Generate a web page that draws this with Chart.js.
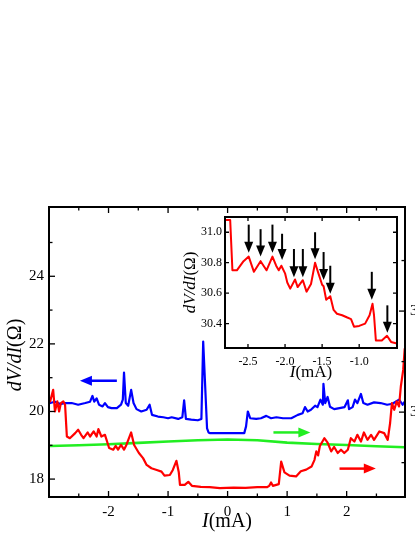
<!DOCTYPE html>
<html>
<head>
<meta charset="utf-8">
<script src="https://cdn.jsdelivr.net/npm/chart.js@4.4.1/dist/chart.umd.min.js"></script>
<style>
  body { margin: 0; background: #fff; }
  #wrap { position: relative; width: 415px; height: 537px; overflow: hidden; }
  #main { position: absolute; left: 0; top: 0; }
  #inset { position: absolute; left: 165px; top: 205px; }
</style>
</head>
<body>
<div id="wrap">
  <canvas id="main" width="415" height="537"></canvas>
  <canvas id="inset" width="240" height="180"></canvas>
</div>
<script>
// main plot, dV/dI vs I, three sweeps
const blueX = [-2.98, -2.90, -2.81, -2.73, -2.62, -2.51, -2.39, -2.31, -2.27, -2.24, -2.20, -2.16, -2.10, -2.06, -2.01, -1.95, -1.86, -1.79, -1.76, -1.74, -1.71, -1.67, -1.62, -1.58, -1.53, -1.45, -1.36, -1.31, -1.27, -1.17, -1.08, -1.00, -0.94, -0.83, -0.76, -0.73, -0.70, -0.61, -0.50, -0.44, -0.41, -0.345, -0.32, -0.30, -0.02, 0.28, 0.31, 0.34, 0.38, 0.48, 0.56, 0.65, 0.73, 0.82, 0.93, 1.07, 1.18, 1.26, 1.30, 1.345, 1.40, 1.47, 1.51, 1.56, 1.60, 1.61, 1.64, 1.68, 1.72, 1.79, 1.88, 1.965, 2.02, 2.04, 2.10, 2.14, 2.18, 2.24, 2.28, 2.35, 2.46, 2.57, 2.68, 2.77, 2.83, 2.88, 2.94, 2.97];
const blueY = [20.25, 20.29, 20.22, 20.25, 20.25, 20.20, 20.25, 20.29, 20.46, 20.29, 20.39, 20.20, 20.15, 20.25, 20.13, 20.10, 20.10, 20.20, 20.35, 21.15, 20.25, 20.17, 20.64, 20.25, 20.07, 20.00, 20.05, 20.20, 19.90, 19.85, 19.83, 19.80, 19.83, 19.78, 19.83, 20.33, 19.78, 19.76, 19.74, 19.78, 22.07, 19.50, 19.38, 19.36, 19.36, 19.36, 19.56, 20.00, 19.80, 19.78, 19.80, 19.87, 19.80, 19.83, 19.80, 19.80, 19.90, 19.95, 20.13, 20.00, 20.05, 20.17, 20.13, 20.35, 20.20, 20.82, 20.25, 20.43, 20.14, 20.07, 20.10, 20.13, 20.33, 20.07, 20.13, 20.35, 20.25, 20.52, 20.25, 20.20, 20.27, 20.25, 20.20, 20.23, 20.30, 20.35, 20.20, 20.28];

const redX = [-2.98, -2.93, -2.90, -2.86, -2.83, -2.80, -2.76, -2.73, -2.70, -2.65, -2.56, -2.51, -2.46, -2.42, -2.35, -2.31, -2.25, -2.20, -2.17, -2.12, -2.06, -1.99, -1.92, -1.88, -1.84, -1.79, -1.74, -1.70, -1.62, -1.57, -1.49, -1.42, -1.36, -1.28, -1.19, -1.11, -1.06, -0.97, -0.92, -0.86, -0.82, -0.80, -0.72, -0.66, -0.60, -0.45, -0.30, -0.13, 0.10, 0.30, 0.50, 0.66, 0.70, 0.73, 0.76, 0.86, 0.90, 0.955, 1.04, 1.15, 1.23, 1.32, 1.41, 1.46, 1.49, 1.52, 1.55, 1.625, 1.68, 1.74, 1.79, 1.85, 1.905, 1.96, 2.02, 2.07, 2.13, 2.18, 2.24, 2.29, 2.35, 2.41, 2.46, 2.55, 2.63, 2.69, 2.73, 2.76, 2.80, 2.84, 2.88, 2.91, 2.95, 2.975];
const redY = [20.30, 20.64, 20.00, 20.30, 20.00, 20.25, 20.30, 20.20, 19.26, 19.21, 19.36, 19.46, 19.31, 19.21, 19.38, 19.26, 19.41, 19.26, 19.48, 19.26, 19.31, 18.92, 18.87, 18.98, 18.87, 19.01, 18.87, 19.01, 19.38, 19.01, 18.77, 18.62, 18.42, 18.32, 18.27, 18.22, 18.10, 18.12, 18.27, 18.54, 18.20, 17.83, 17.83, 17.92, 17.80, 17.77, 17.76, 17.73, 17.75, 17.74, 17.76, 17.76, 17.80, 17.90, 17.80, 17.85, 18.52, 18.20, 18.10, 18.08, 18.23, 18.28, 18.37, 18.57, 18.82, 18.70, 18.98, 19.21, 19.08, 18.82, 18.95, 18.77, 18.87, 18.77, 18.87, 19.21, 19.11, 19.31, 19.11, 19.38, 19.16, 19.31, 19.16, 19.41, 19.36, 19.16, 19.66, 20.25, 20.05, 20.30, 20.15, 20.74, 21.23, 21.85];

const greenX = [-2.98, -2.5, -2.0, -1.5, -1.0, -0.5, 0.0, 0.5, 1.0, 1.5, 2.0, 2.5, 2.975];
const greenY = [18.98, 19.00, 19.03, 19.07, 19.11, 19.15, 19.17, 19.15, 19.08, 19.04, 19.01, 18.97, 18.94];

// sweep direction arrows (tail -> head)
const sweepTailX = [-1.86, 0.77, 1.88];
const sweepHeadX = [-2.48, 1.39, 2.49];
const sweepY = [20.91, 19.38, 18.31];

// ticks
const mainXTicks = [-2, -1, 0, 1, 2];
const mainXMinor = [-2.5, -1.5, -0.5, 0.5, 1.5, 2.5];
const mainYTicks = [18, 20, 22, 24];
const mainYMinor = [19, 21, 23, 25];
const rightYTicks = [30, 31];
const rightYMinor = [29.5, 30.5, 31.5];

// inset, zoom of the red sweep at negative current
const insetX = [-2.81, -2.74, -2.71, -2.65, -2.56, -2.49, -2.42, -2.33, -2.25, -2.17, -2.12, -2.085, -2.05, -2.00, -1.97, -1.93, -1.865, -1.83, -1.76, -1.71, -1.65, -1.595, -1.55, -1.50, -1.48, -1.445, -1.39, -1.345, -1.30, -1.23, -1.16, -1.11, -1.07, -1.00, -0.92, -0.86, -0.82, -0.80, -0.775, -0.695, -0.625, -0.57, -0.49];
const insetY = [31.08, 31.08, 30.75, 30.75, 30.81, 30.84, 30.74, 30.81, 30.75, 30.84, 30.78, 30.75, 30.78, 30.73, 30.67, 30.63, 30.69, 30.64, 30.685, 30.61, 30.66, 30.80, 30.73, 30.655, 30.645, 30.557, 30.58, 30.49, 30.465, 30.455, 30.44, 30.43, 30.38, 30.385, 30.40, 30.455, 30.53, 30.455, 30.29, 30.29, 30.32, 30.28, 30.27];
const peakX = [-2.49, -2.33, -2.17, -2.04, -1.88, -1.76, -1.595, -1.48, -1.39, -0.83, -0.62];
const peakTipY = [30.865, 30.84, 30.865, 30.818, 30.705, 30.705, 30.822, 30.687, 30.596, 30.557, 30.34];
const peakTailY = [31.05, 31.02, 31.05, 30.99, 30.89, 30.89, 31.00, 30.87, 30.78, 30.74, 30.52];
const insetXTicks = [-2.5, -2.0, -1.5, -1.0];
const insetYTicks = [30.4, 30.6, 30.8, 31.0];

const serif = '"Liberation Serif", "Times New Roman", serif';
const pts = (xs, ys) => xs.map((x, i) => ({ x: x, y: ys[i] }));

function drawMixed(ctx, parts, size, x, y, angle) {
  ctx.save();
  ctx.translate(x, y);
  ctx.rotate(angle);
  ctx.fillStyle = '#000';
  ctx.textBaseline = 'middle';
  ctx.textAlign = 'left';
  const font = p => (p.it ? 'italic ' : '') + size + 'px ' + serif;
  let total = 0;
  parts.forEach(p => { ctx.font = font(p); total += ctx.measureText(p.t).width; });
  let cx = -total / 2;
  parts.forEach(p => {
    ctx.font = font(p);
    ctx.fillText(p.t, cx, 0);
    cx += ctx.measureText(p.t).width;
  });
  ctx.restore();
}

function drawArrow(ctx, x0, y0, x1, y1, color, lw, headLen, headW) {
  const dx = x1 - x0, dy = y1 - y0;
  const len = Math.hypot(dx, dy);
  const ux = dx / len, uy = dy / len;
  const bx = x1 - ux * headLen, by = y1 - uy * headLen;
  ctx.save();
  ctx.strokeStyle = color;
  ctx.fillStyle = color;
  ctx.lineWidth = lw;
  ctx.beginPath();
  ctx.moveTo(x0, y0);
  ctx.lineTo(bx + ux, by + uy);
  ctx.stroke();
  ctx.beginPath();
  ctx.moveTo(x1, y1);
  ctx.lineTo(bx - uy * headW, by + ux * headW);
  ctx.lineTo(bx + uy * headW, by - ux * headW);
  ctx.closePath();
  ctx.fill();
  ctx.restore();
}

// box around the plot area with inward ticks
function framePlugin(marks, lw) {
  return {
    id: 'frame',
    afterDraw(chart) {
      const { ctx, chartArea: a, scales } = chart;
      ctx.save();
      ctx.strokeStyle = '#000';
      ctx.lineWidth = 1.3;
      marks.forEach(m => {
        const sc = scales[m.scale];
        m.values.forEach(v => {
          const p = sc.getPixelForValue(v);
          ctx.beginPath();
          m.sides.forEach(side => {
            if (side === 'bottom') { ctx.moveTo(p, a.bottom); ctx.lineTo(p, a.bottom - m.len); }
            if (side === 'top') { ctx.moveTo(p, a.top); ctx.lineTo(p, a.top + m.len); }
            if (side === 'left') { ctx.moveTo(a.left, p); ctx.lineTo(a.left + m.len, p); }
            if (side === 'right') { ctx.moveTo(a.right, p); ctx.lineTo(a.right - m.len, p); }
          });
          ctx.stroke();
        });
      });
      ctx.lineWidth = lw;
      ctx.strokeRect(a.left, a.top, a.right - a.left, a.bottom - a.top);
      ctx.restore();
    }
  };
}

function tickScale(opts) {
  return {
    type: 'linear',
    position: opts.position,
    min: opts.min,
    max: opts.max,
    grid: { display: false, drawTicks: false },
    border: { display: false },
    afterBuildTicks: s => { s.ticks = opts.ticks.map(v => ({ value: v })); },
    afterFit: s => { if (opts.width !== undefined) s.width = opts.width; if (opts.height !== undefined) s.height = opts.height; },
    ticks: {
      color: '#000',
      font: { family: serif, size: opts.size },
      padding: opts.padding,
      maxRotation: 0,
      autoSkip: false,
      callback: opts.fmt
    }
  };
}

const lineStyle = { pointRadius: 0, borderJoinStyle: 'round', borderCapStyle: 'round' };

const mainLabels = {
  id: 'mainLabels',
  afterDatasetsDraw(chart) {
    const { ctx, scales } = chart;
    const colors = ['#0000ff', '#22ee22', '#ff0000'];
    sweepY.forEach((y, i) => {
      const py = scales.y.getPixelForValue(y);
      drawArrow(ctx, scales.x.getPixelForValue(sweepTailX[i]), py,
        scales.x.getPixelForValue(sweepHeadX[i]), py, colors[i], 2.5, 12, 5);
    });
  },
  afterDraw(chart) {
    const { ctx, chartArea: a } = chart;
    drawMixed(ctx, [{ t: 'I', it: true }, { t: '(mA)' }], 20, (a.left + a.right) / 2, 522, 0);
    drawMixed(ctx, [{ t: 'dV/dI', it: true }, { t: '(Ω)' }], 20, 16, (a.top + a.bottom) / 2 + 3, -Math.PI / 2);
  }
};

new Chart(document.getElementById('main'), {
  type: 'line',
  data: {
    datasets: [
      Object.assign({ data: pts(redX, redY), borderColor: '#ff0000', borderWidth: 2.2 }, lineStyle),
      Object.assign({ data: pts(blueX, blueY), borderColor: '#0000ff', borderWidth: 2.2 }, lineStyle),
      Object.assign({ data: pts(greenX, greenY), borderColor: '#22ee22', borderWidth: 2.6 }, lineStyle)
    ]
  },
  options: {
    responsive: false,
    animation: false,
    layout: { padding: { top: 207, left: 0, right: 0, bottom: 0 } },
    plugins: { legend: { display: false }, tooltip: { enabled: false } },
    scales: {
      x: tickScale({ position: 'bottom', min: -3, max: 2.98, ticks: mainXTicks, size: 15, padding: 6, height: 40, fmt: v => String(v) }),
      y: tickScale({ position: 'left', min: 17.47, max: 26.05, ticks: mainYTicks, size: 15, padding: 5, width: 49, fmt: v => String(v) }),
      y2: tickScale({ position: 'right', min: 29.16, max: 32.03, ticks: rightYTicks, size: 15, padding: 5, width: 10, fmt: v => String(v) })
    }
  },
  plugins: [
    framePlugin([
      { scale: 'x', values: mainXTicks, len: 6, sides: ['bottom', 'top'] },
      { scale: 'x', values: mainXMinor, len: 3.5, sides: ['bottom', 'top'] },
      { scale: 'y', values: mainYTicks, len: 6, sides: ['left'] },
      { scale: 'y', values: mainYMinor, len: 3.5, sides: ['left'] },
      { scale: 'y2', values: rightYTicks, len: 6, sides: ['right'] },
      { scale: 'y2', values: rightYMinor, len: 3.5, sides: ['right'] }
    ], 2),
    mainLabels
  ]
});

const insetLabels = {
  id: 'insetLabels',
  afterDatasetsDraw(chart) {
    const { ctx, scales } = chart;
    peakX.forEach((x, i) => {
      const px = scales.x.getPixelForValue(x);
      drawArrow(ctx, px, scales.y.getPixelForValue(peakTailY[i]),
        px, scales.y.getPixelForValue(peakTipY[i]), '#000', 2, 11, 4.5);
    });
  },
  afterDraw(chart) {
    const { ctx, chartArea: a } = chart;
    drawMixed(ctx, [{ t: 'I', it: true }, { t: '(mA)' }], 17, (a.left + a.right) / 2, 168, 0);
    drawMixed(ctx, [{ t: 'dV/dI', it: true }, { t: '(Ω)' }], 17, 26, (a.top + a.bottom) / 2, -Math.PI / 2);
  }
};

new Chart(document.getElementById('inset'), {
  type: 'line',
  data: {
    datasets: [
      Object.assign({ data: pts(insetX, insetY), borderColor: '#ff0000', borderWidth: 2 }, lineStyle)
    ]
  },
  options: {
    responsive: false,
    animation: false,
    layout: { padding: { top: 12, left: 0, right: 8, bottom: 0 } },
    plugins: { legend: { display: false }, tooltip: { enabled: false } },
    scales: {
      x: tickScale({ position: 'bottom', min: -2.81, max: -0.49, ticks: insetXTicks, size: 12, padding: 7, height: 37, fmt: v => v.toFixed(1) }),
      y: tickScale({ position: 'left', min: 30.24, max: 31.10, ticks: insetYTicks, size: 12, padding: 3, width: 60, fmt: v => v.toFixed(1) })
    }
  },
  plugins: [
    framePlugin([
      { scale: 'x', values: insetXTicks, len: 4, sides: ['bottom', 'top'] },
      { scale: 'y', values: insetYTicks, len: 4, sides: ['left', 'right'] }
    ], 2),
    insetLabels
  ]
});
</script>
</body>
</html>
